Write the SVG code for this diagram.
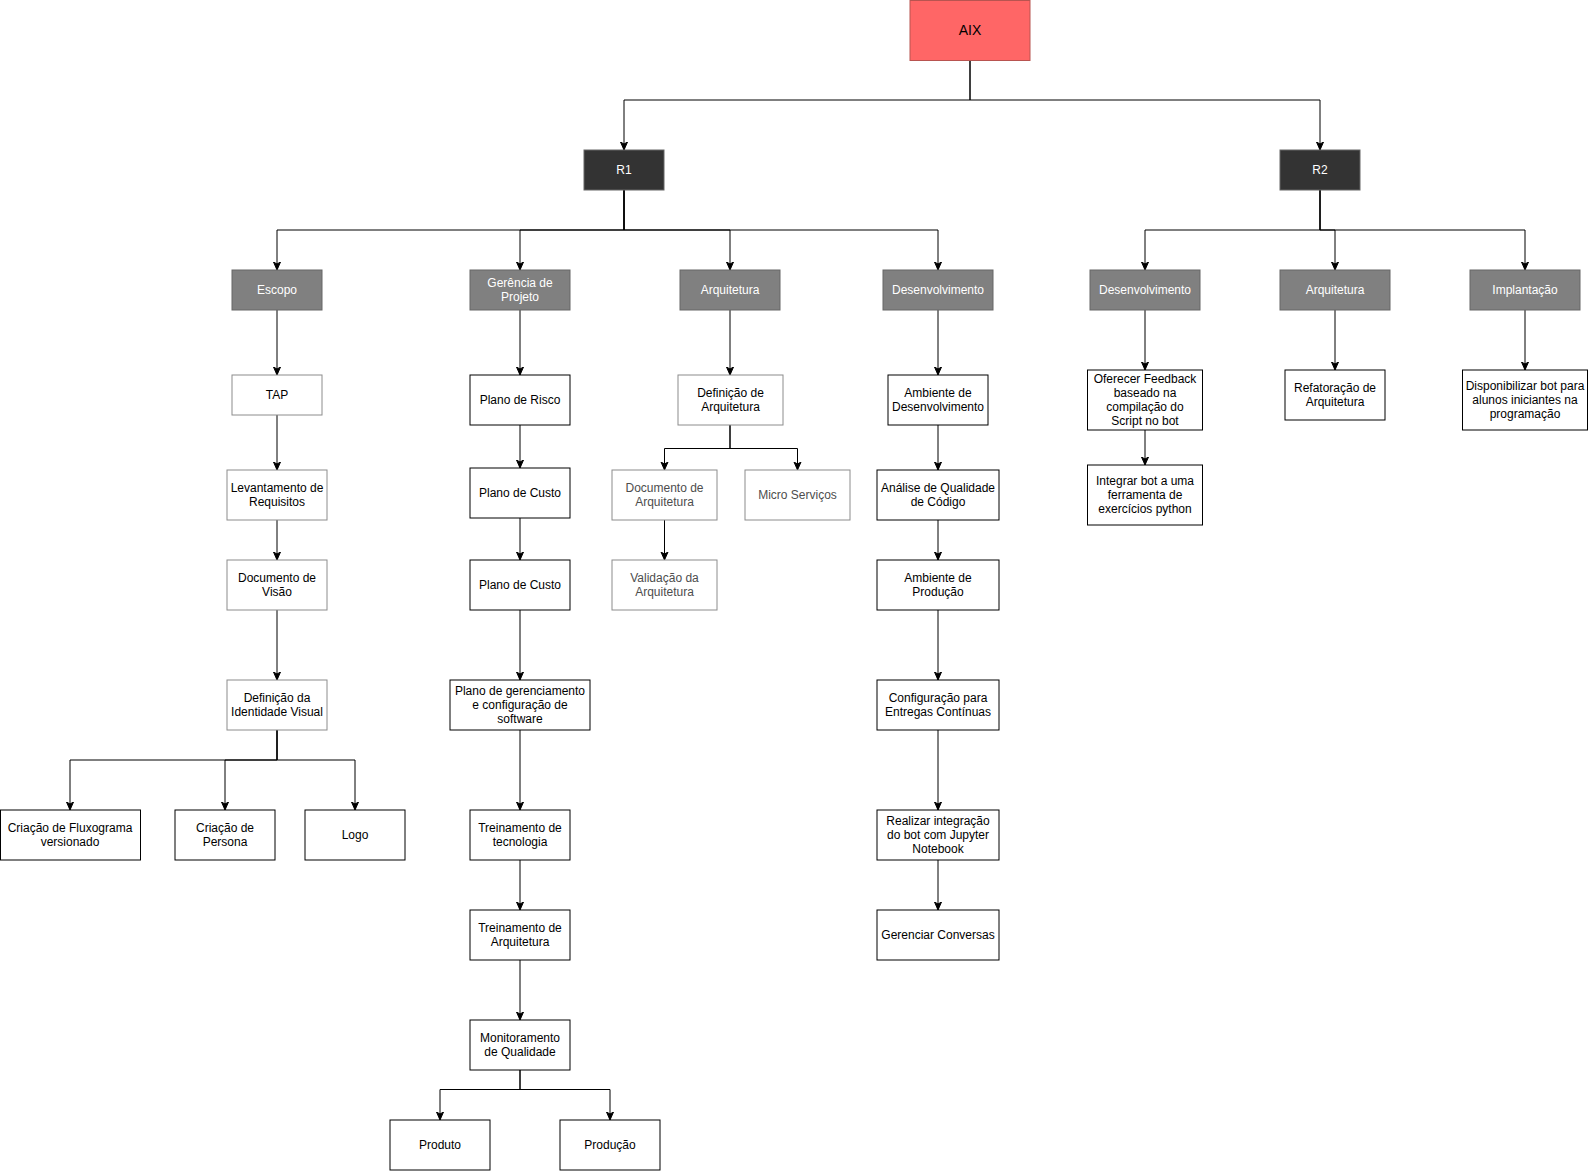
<svg xmlns="http://www.w3.org/2000/svg" width="1589" height="1171" viewBox="0 0 1589 1171">
<style>
text{font-family:"Liberation Sans",Arial,sans-serif;font-size:12px;text-anchor:middle;fill:#000}
.root rect{fill:#FF6666;stroke:#b85450}
.root text{font-size:14px;fill:#000}
.rel rect{fill:#333333;stroke:#666666}
.rel text{fill:#ffffff}
.cat rect{fill:#808080;stroke:#666666}
.cat text{fill:#ffffff}
.leaf rect{fill:#ffffff;stroke:#000000}
.light rect{fill:#ffffff;stroke:#8c8c8c}
.grey text{fill:#4d4d4d}
.edges path{fill:none;stroke:#000;stroke-width:1;marker-end:url(#arr)}
</style>
<defs>
<marker id="arr" markerUnits="userSpaceOnUse" markerWidth="10" markerHeight="10" viewBox="0 0 10 10" refX="8" refY="5" orient="auto">
<path d="M0,1.5 L8,5 L0,8.5 L2,5 z" fill="#000" stroke="#000" stroke-width="1"/>
</marker>
</defs>
<rect width="1589" height="1171" fill="#ffffff"/>
<g class="edges" id="connectors">
<path d="M970,61 V100 H624 V150"/>
<path d="M970,61 V100 H1320 V150"/>
<path d="M624,190 V230 H277 V270"/>
<path d="M624,190 V230 H520 V270"/>
<path d="M624,190 V230 H730 V270"/>
<path d="M624,190 V230 H938 V270"/>
<path d="M1320,190 V230 H1145 V270"/>
<path d="M1320,190 V230 H1335 V270"/>
<path d="M1320,190 V230 H1525 V270"/>
<path d="M277,310 V375"/>
<path d="M277,415 V470"/>
<path d="M277,520 V560"/>
<path d="M277,610 V680"/>
<path d="M277,730 V760 H70 V810"/>
<path d="M277,730 V760 H225 V810"/>
<path d="M277,730 V760 H355 V810"/>
<path d="M520,310 V375"/>
<path d="M520,425 V468"/>
<path d="M520,518 V560"/>
<path d="M520,610 V680"/>
<path d="M520,730 V810"/>
<path d="M520,860 V910"/>
<path d="M520,960 V1020"/>
<path d="M520,1070 V1089.5 H440 V1120"/>
<path d="M520,1070 V1089.5 H610 V1120"/>
<path d="M730,310 V375"/>
<path d="M730,425 V448.5 H664.5 V470"/>
<path d="M730,425 V448.5 H797.5 V470"/>
<path d="M664.5,520 V560"/>
<path d="M938,310 V375"/>
<path d="M938,425 V470"/>
<path d="M938,520 V560"/>
<path d="M938,610 V680"/>
<path d="M938,730 V810"/>
<path d="M938,860 V910"/>
<path d="M1145,310 V370"/>
<path d="M1145,430 V465"/>
<path d="M1335,310 V370"/>
<path d="M1525,310 V370"/>
</g>
<g id="aix" class="root"><rect x="910" y="0.5" width="120" height="60"/><text x="970" y="34.5">AIX</text></g>
<g id="r1" class="rel"><rect x="584" y="150" width="80" height="40"/><text x="624" y="173.5">R1</text></g>
<g id="r2" class="rel"><rect x="1280" y="150" width="80" height="40"/><text x="1320" y="173.5">R2</text></g>
<g id="escopo" class="cat"><rect x="232" y="270" width="90" height="40"/><text x="277" y="293.5">Escopo</text></g>
<g id="gerencia" class="cat"><rect x="470" y="270" width="100" height="40"/><text x="520" y="286.5">Gerência de</text><text x="520" y="300.5">Projeto</text></g>
<g id="arq1" class="cat"><rect x="680" y="270" width="100" height="40"/><text x="730" y="293.5">Arquitetura</text></g>
<g id="dev1" class="cat"><rect x="883" y="270" width="110" height="40"/><text x="938" y="293.5">Desenvolvimento</text></g>
<g id="dev2" class="cat"><rect x="1090" y="270" width="110" height="40"/><text x="1145" y="293.5">Desenvolvimento</text></g>
<g id="arq2" class="cat"><rect x="1280" y="270" width="110" height="40"/><text x="1335" y="293.5">Arquitetura</text></g>
<g id="impl" class="cat"><rect x="1470" y="270" width="110" height="40"/><text x="1525" y="293.5">Implantação</text></g>
<g id="tap" class="light"><rect x="232" y="375" width="90" height="40"/><text x="277" y="398.5">TAP</text></g>
<g id="levantamento" class="light"><rect x="227" y="470" width="100" height="50"/><text x="277" y="491.5">Levantamento de</text><text x="277" y="505.5">Requisitos</text></g>
<g id="docvisao" class="light"><rect x="227" y="560" width="100" height="50"/><text x="277" y="581.5">Documento de</text><text x="277" y="595.5">Visão</text></g>
<g id="identidade" class="light"><rect x="227" y="680" width="100" height="50"/><text x="277" y="701.5">Definição da</text><text x="277" y="715.5">Identidade Visual</text></g>
<g id="fluxograma" class="leaf"><rect x="0.5" y="810" width="140" height="50"/><text x="70" y="831.5">Criação de Fluxograma</text><text x="70" y="845.5">versionado</text></g>
<g id="persona" class="leaf"><rect x="175" y="810" width="100" height="50"/><text x="225" y="831.5">Criação de</text><text x="225" y="845.5">Persona</text></g>
<g id="logo" class="leaf"><rect x="305" y="810" width="100" height="50"/><text x="355" y="838.5">Logo</text></g>
<g id="risco" class="leaf"><rect x="470" y="375" width="100" height="50"/><text x="520" y="403.5">Plano de Risco</text></g>
<g id="custo1" class="leaf"><rect x="470" y="468" width="100" height="50"/><text x="520" y="496.5">Plano de Custo</text></g>
<g id="custo2" class="leaf"><rect x="470" y="560" width="100" height="50"/><text x="520" y="588.5">Plano de Custo</text></g>
<g id="gerenciamento" class="leaf"><rect x="450" y="680" width="140" height="50"/><text x="520" y="694.5">Plano de gerenciamento</text><text x="520" y="708.5">e configuração de</text><text x="520" y="722.5">software</text></g>
<g id="treino-tec" class="leaf"><rect x="470" y="810" width="100" height="50"/><text x="520" y="831.5">Treinamento de</text><text x="520" y="845.5">tecnologia</text></g>
<g id="treino-arq" class="leaf"><rect x="470" y="910" width="100" height="50"/><text x="520" y="931.5">Treinamento de</text><text x="520" y="945.5">Arquitetura</text></g>
<g id="monitoramento" class="leaf"><rect x="470" y="1020" width="100" height="50"/><text x="520" y="1041.5">Monitoramento</text><text x="520" y="1055.5">de Qualidade</text></g>
<g id="produto" class="leaf"><rect x="390" y="1120" width="100" height="50"/><text x="440" y="1148.5">Produto</text></g>
<g id="producao" class="leaf"><rect x="560" y="1120" width="100" height="50"/><text x="610" y="1148.5">Produção</text></g>
<g id="def-arq" class="light"><rect x="678" y="375" width="105" height="50"/><text x="730.5" y="396.5">Definição de</text><text x="730.5" y="410.5">Arquitetura</text></g>
<g id="doc-arq" class="light grey"><rect x="612" y="470" width="105" height="50"/><text x="664.5" y="491.5">Documento de</text><text x="664.5" y="505.5">Arquitetura</text></g>
<g id="micro" class="light grey"><rect x="745" y="470" width="105" height="50"/><text x="797.5" y="498.5">Micro Serviços</text></g>
<g id="validacao" class="light grey"><rect x="612" y="560" width="105" height="50"/><text x="664.5" y="581.5">Validação da</text><text x="664.5" y="595.5">Arquitetura</text></g>
<g id="amb-dev" class="leaf"><rect x="888" y="375" width="100" height="50"/><text x="938" y="396.5">Ambiente de</text><text x="938" y="410.5">Desenvolvimento</text></g>
<g id="analise" class="leaf"><rect x="877" y="470" width="122" height="50"/><text x="938" y="491.5">Análise de Qualidade</text><text x="938" y="505.5">de Código</text></g>
<g id="amb-prod" class="leaf"><rect x="877" y="560" width="122" height="50"/><text x="938" y="581.5">Ambiente de</text><text x="938" y="595.5">Produção</text></g>
<g id="config-ci" class="leaf"><rect x="877" y="680" width="122" height="50"/><text x="938" y="701.5">Configuração para</text><text x="938" y="715.5">Entregas Contínuas</text></g>
<g id="jupyter" class="leaf"><rect x="877" y="810" width="122" height="50"/><text x="938" y="824.5">Realizar integração</text><text x="938" y="838.5">do bot com Jupyter</text><text x="938" y="852.5">Notebook</text></g>
<g id="conversas" class="leaf"><rect x="877" y="910" width="122" height="50"/><text x="938" y="938.5">Gerenciar Conversas</text></g>
<g id="feedback" class="leaf"><rect x="1087.5" y="370" width="115" height="60"/><text x="1145" y="382.5">Oferecer Feedback</text><text x="1145" y="396.5">baseado na</text><text x="1145" y="410.5">compilação do</text><text x="1145" y="424.5">Script no bot</text></g>
<g id="integrar" class="leaf"><rect x="1087.5" y="465" width="115" height="60"/><text x="1145" y="484.5">Integrar bot a uma</text><text x="1145" y="498.5">ferramenta de</text><text x="1145" y="512.5">exercícios python</text></g>
<g id="refatoracao" class="leaf"><rect x="1285" y="370" width="100" height="50"/><text x="1335" y="391.5">Refatoração de</text><text x="1335" y="405.5">Arquitetura</text></g>
<g id="disponibilizar" class="leaf"><rect x="1462.5" y="370" width="125" height="60"/><text x="1525" y="389.5">Disponibilizar bot para</text><text x="1525" y="403.5">alunos iniciantes na</text><text x="1525" y="417.5">programação</text></g>
</svg>
